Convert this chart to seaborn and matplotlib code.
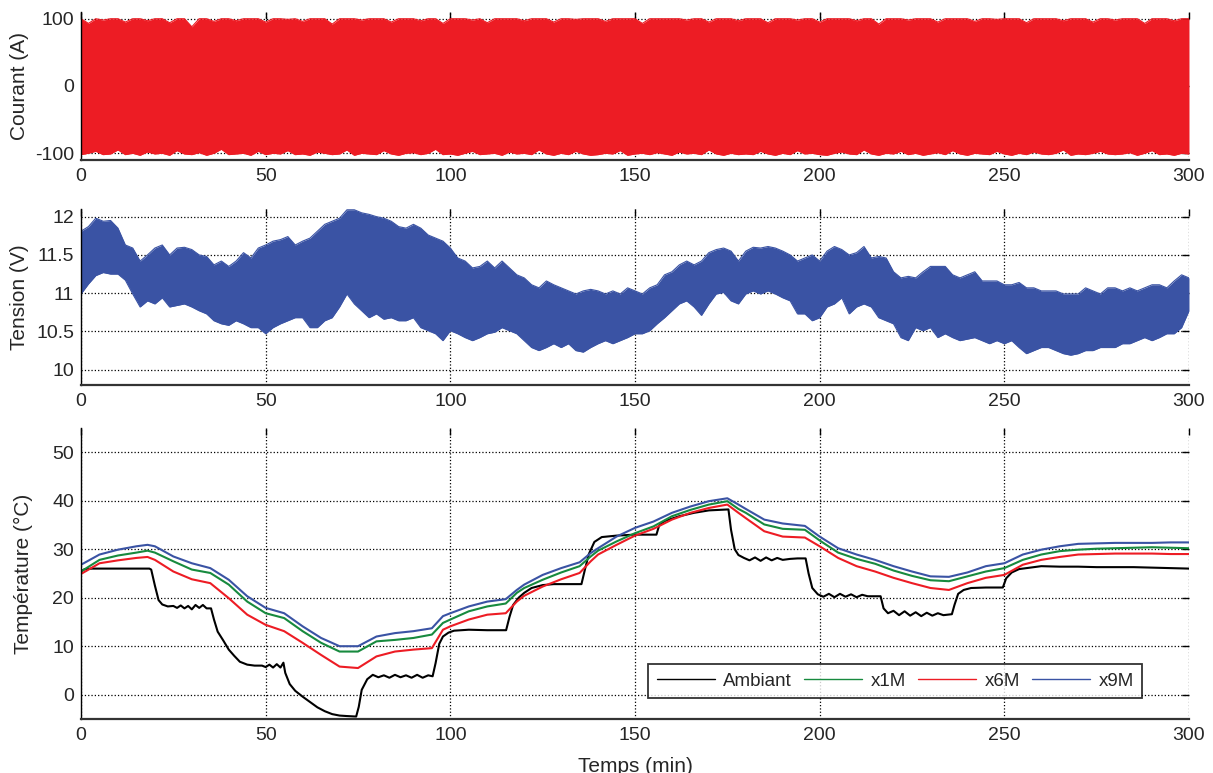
import numpy as np
import matplotlib.pyplot as plt
import matplotlib.ticker as mticker
import seaborn as sns
import pandas as pd

# ---- data ----
# envelopes of the current / voltage signals, one value every 2 min
t_env = np.arange(0, 301, 2)

courant_haut = [
    100, 93, 100, 98, 100, 100, 95, 100, 100, 97,
    100, 100, 94, 100, 100, 88, 100, 100, 96, 100,
    100, 97, 100, 100, 100, 95, 100, 100, 99, 100,
    96, 100, 100, 100, 92, 100, 100, 100, 98, 100,
    100, 100, 95, 100, 100, 100, 97, 100, 100, 93,
    100, 100, 100, 98, 100, 94, 100, 100, 100, 100,
    97, 100, 100, 100, 95, 100, 100, 99, 100, 100,
    100, 96, 100, 100, 100, 100, 93, 100, 100, 100,
    100, 100, 98, 100, 100, 95, 100, 100, 100, 97,
    100, 100, 100, 94, 100, 100, 100, 98, 100, 100,
    95, 100, 100, 100, 100, 97, 100, 100, 92, 100,
    100, 100, 98, 100, 100, 100, 95, 100, 100, 100,
    100, 96, 100, 100, 99, 100, 100, 100, 94, 100,
    100, 100, 100, 97, 100, 100, 100, 95, 100, 100,
    98, 100, 100, 100, 93, 100, 100, 100, 97, 100,
    100]
courant_bas = [
    -102, -100, -97, -102, -101, -95, -102, -100, -103, -98,
    -101, -100, -103, -96, -101, -102, -99, -103, -100, -94,
    -102, -101, -100, -103, -97, -102, -100, -101, -96, -102,
    -101, -103, -98, -100, -102, -101, -95, -103, -100, -101,
    -102, -96, -101, -103, -100, -99, -102, -100, -94, -102,
    -101, -103, -100, -97, -102, -101, -100, -103, -98, -101,
    -100, -102, -95, -101, -103, -100, -102, -97, -101, -103,
    -102, -100, -101, -96, -103, -101, -100, -102, -99, -101,
    -103, -98, -101, -100, -102, -95, -101, -103, -100, -102,
    -101, -102, -97, -101, -103, -100, -102, -96, -101, -100,
    -102, -103, -100, -98, -101, -102, -95, -101, -103, -100,
    -101, -97, -102, -100, -103, -101, -99, -102, -96, -101,
    -103, -100, -101, -102, -97, -101, -103, -100, -102, -98,
    -101, -102, -100, -95, -103, -101, -102, -100, -97, -101,
    -102, -101, -99, -103, -100, -96, -102, -101, -103, -100,
    -101]

tension_haut = [
    11.81, 11.87, 11.98, 11.94, 11.95, 11.85, 11.63, 11.59, 11.42, 11.50,
    11.59, 11.63, 11.50, 11.59, 11.60, 11.57, 11.50, 11.48, 11.37, 11.42,
    11.35, 11.42, 11.53, 11.46, 11.59, 11.63, 11.68, 11.70, 11.74, 11.63,
    11.68, 11.72, 11.81, 11.90, 11.94, 11.98, 12.09, 12.09, 12.05, 12.03,
    12.00, 11.98, 11.94, 11.87, 11.85, 11.90, 11.85, 11.76, 11.72, 11.68,
    11.59, 11.46, 11.42, 11.33, 11.35, 11.42, 11.33, 11.42, 11.33, 11.24,
    11.20, 11.11, 11.07, 11.16, 11.11, 11.07, 11.03, 10.99, 11.03, 11.05,
    11.03, 10.99, 11.03, 10.99, 11.07, 11.03, 10.99, 11.07, 11.11, 11.24,
    11.28, 11.37, 11.42, 11.37, 11.42, 11.53, 11.57, 11.59, 11.55, 11.42,
    11.55, 11.60, 11.59, 11.61, 11.59, 11.55, 11.50, 11.42, 11.46, 11.50,
    11.42, 11.55, 11.61, 11.57, 11.50, 11.53, 11.61, 11.46, 11.48, 11.46,
    11.28, 11.20, 11.22, 11.20, 11.28, 11.35, 11.35, 11.35, 11.24, 11.20,
    11.24, 11.28, 11.16, 11.16, 11.16, 11.11, 11.11, 11.14, 11.07, 11.07,
    11.03, 11.03, 11.03, 10.99, 10.99, 10.99, 11.07, 11.03, 10.99, 11.07,
    11.07, 11.03, 11.07, 11.03, 11.07, 11.11, 11.11, 11.07, 11.16, 11.24,
    11.20]
tension_bas = [
    10.99, 11.12, 11.23, 11.27, 11.25, 11.25, 11.17, 10.99, 10.82, 10.90,
    10.86, 10.94, 10.82, 10.84, 10.86, 10.82, 10.77, 10.73, 10.64, 10.60,
    10.58, 10.64, 10.60, 10.55, 10.55, 10.47, 10.55, 10.60, 10.64, 10.68,
    10.68, 10.55, 10.55, 10.64, 10.68, 10.82, 10.99, 10.86, 10.77, 10.68,
    10.73, 10.66, 10.68, 10.64, 10.64, 10.68, 10.55, 10.51, 10.47, 10.38,
    10.51, 10.47, 10.42, 10.38, 10.42, 10.47, 10.49, 10.55, 10.51, 10.47,
    10.38, 10.29, 10.25, 10.29, 10.34, 10.29, 10.34, 10.25, 10.23, 10.29,
    10.34, 10.38, 10.34, 10.38, 10.42, 10.47, 10.47, 10.51, 10.60, 10.68,
    10.77, 10.86, 10.90, 10.82, 10.71, 10.86, 10.99, 11.01, 10.90, 10.86,
    10.99, 11.03, 10.99, 11.03, 10.99, 10.94, 10.90, 10.73, 10.73, 10.64,
    10.68, 10.82, 10.86, 10.94, 10.73, 10.82, 10.86, 10.82, 10.68, 10.64,
    10.60, 10.42, 10.38, 10.55, 10.51, 10.55, 10.42, 10.47, 10.42, 10.38,
    10.40, 10.42, 10.38, 10.34, 10.38, 10.34, 10.38, 10.29, 10.21, 10.25,
    10.29, 10.29, 10.25, 10.21, 10.19, 10.21, 10.25, 10.25, 10.29, 10.29,
    10.29, 10.34, 10.34, 10.38, 10.42, 10.38, 10.42, 10.47, 10.47, 10.55,
    10.77]

# ambient temperature (irregular sampling to keep steps and wiggles)
t_amb = [0, 1, 3, 10, 18.5, 19, 20, 21, 22, 23.5, 25, 26, 27, 28, 29, 30, 31, 32, 33, 34, 35.2,
         36, 37, 38.5, 40, 41.5, 43, 45, 47, 49, 50, 51, 52, 53, 54, 54.8, 55.3, 56.5, 58, 60,
         62, 64, 66, 68, 70, 72, 74.5, 75.2, 76, 77.5, 79, 80.5, 82, 83.5, 85, 86.5, 88, 89.5,
         91, 92.5, 94, 95.2, 96, 97, 98, 99.5, 101, 105, 110, 115.1, 116, 117, 118.5, 120, 122,
         125, 128, 135.5, 136.5, 137.5, 139, 141, 145, 150, 155.8, 156.5, 158, 162, 166, 170,
         175.3, 176, 177, 178, 179.5, 181, 182.5, 184, 185.5, 187, 188.5, 190, 192, 194, 196.2,
         197, 198, 199.5, 201, 202.5, 204, 205.5, 207, 208.5, 210, 211.5, 213, 216.5, 217.3,
         218.5, 220, 221.5, 223, 224.5, 226, 227.5, 229, 230.5, 232, 233.5, 235.8, 236.5, 237.5,
         239, 241, 245, 249.6, 250.5, 252, 254, 257, 260, 265, 270, 275, 280, 285, 290, 295, 300]
ambiant = [25.4, 25.9, 26.0, 26.0, 26.0, 25.8, 22.5, 19.5, 18.6, 18.2, 18.3, 17.9, 18.4, 17.8, 18.3,
           17.6, 18.5, 17.9, 18.5, 17.8, 17.8, 15.5, 13.0, 11.2, 9.3, 8.0, 6.8, 6.2, 6.0, 6.0, 5.7,
           6.2, 5.6, 6.3, 5.6, 6.6, 4.5, 2.2, 0.8, -0.4, -1.5, -2.6, -3.4, -4.0, -4.3, -4.4, -4.5,
           -2.5, 1.0, 3.2, 4.1, 3.6, 4.0, 3.5, 4.1, 3.6, 4.0, 3.5, 4.1, 3.5, 4.0, 3.8, 6.5, 10.5,
           12.0, 12.8, 13.2, 13.4, 13.3, 13.3, 16.0, 18.5, 20.0, 21.0, 22.0, 22.6, 22.8, 22.8, 26.0,
           29.0, 31.5, 32.5, 32.8, 33.0, 33.0, 34.8, 35.8, 36.8, 37.5, 38.0, 38.2, 34.0, 30.0, 28.8,
           28.2, 27.7, 28.3, 27.6, 28.3, 27.7, 28.2, 27.8, 28.0, 28.1, 28.1, 25.0, 22.0, 20.7, 20.2,
           20.8, 20.1, 20.8, 20.2, 20.7, 20.1, 20.6, 20.3, 20.3, 17.8, 16.8, 17.3, 16.4, 17.2, 16.3,
           17.0, 16.2, 16.9, 16.3, 16.8, 16.4, 16.6, 18.5, 20.8, 21.6, 22.0, 22.1, 22.1, 24.0, 25.2,
           25.9, 26.2, 26.5, 26.4, 26.4, 26.3, 26.3, 26.3, 26.2, 26.1, 26.0]

# module temperatures
t_mod = [0, 5, 10, 15, 18, 20, 25, 30, 35, 40, 45, 50, 55, 60, 65, 70, 75, 80, 85, 90, 95, 98, 100,
         105, 110, 115, 118, 120, 125, 130, 135, 138, 140, 145, 150, 155, 160, 165, 170, 175, 178,
         180, 185, 190, 196, 200, 205, 210, 215, 220, 225, 230, 235, 240, 245, 250, 255, 260, 265,
         270, 275, 280, 285, 290, 295, 300]
x1M = [25.4, 27.8, 28.7, 29.3, 29.7, 29.3, 27.5, 25.8, 25.1, 22.7, 19.2, 16.8, 15.8, 13.1, 10.7, 8.9,
       8.9, 11.0, 11.3, 11.7, 12.4, 14.8, 15.5, 17.2, 18.2, 18.8, 21.0, 22.0, 23.7, 25.2, 26.5, 28.5,
       29.7, 31.6, 33.3, 34.7, 36.8, 38.1, 39.2, 39.9, 38.3, 37.5, 35.1, 34.2, 34.0, 31.8, 29.3, 28.0,
       27.0, 25.6, 24.5, 23.6, 23.4, 24.4, 25.4, 26.1, 27.8, 28.9, 29.6, 29.9, 30.1, 30.2, 30.3, 30.4,
       30.3, 30.2]
x6M = [24.9, 27.1, 27.7, 28.2, 28.4, 27.8, 25.4, 23.8, 23.0, 19.9, 16.5, 14.4, 13.1, 10.7, 8.2, 5.8,
       5.5, 7.9, 8.9, 9.3, 9.6, 13.4, 14.1, 15.5, 16.5, 16.8, 19.2, 20.4, 22.3, 23.8, 25.1, 27.5,
       28.9, 30.9, 32.8, 34.2, 36.1, 37.5, 38.5, 39.2, 37.5, 36.4, 33.7, 32.6, 32.4, 30.6, 28.2, 26.5,
       25.4, 24.1, 23.0, 22.0, 21.6, 23.0, 24.1, 24.7, 26.8, 27.8, 28.4, 28.9, 29.0, 29.1, 29.1, 29.1,
       29.0, 29.0]
x9M = [26.8, 28.9, 29.9, 30.6, 30.9, 30.6, 28.5, 27.1, 26.1, 23.7, 20.3, 17.9, 16.8, 14.1, 11.7, 10.0,
       10.0, 12.0, 12.7, 13.1, 13.7, 16.2, 16.8, 18.2, 19.2, 19.7, 21.6, 22.7, 24.7, 26.1, 27.3, 29.2,
       30.2, 32.6, 34.4, 35.7, 37.5, 38.8, 39.9, 40.5, 39.2, 38.3, 36.1, 35.3, 34.8, 32.6, 30.2, 28.9,
       27.8, 26.5, 25.4, 24.4, 24.3, 25.2, 26.5, 27.1, 28.9, 29.9, 30.6, 31.1, 31.2, 31.3, 31.3, 31.3,
       31.4, 31.4]

ROUGE = '#ED1C24'
BLEU = '#3A53A4'
VERT = '#178A3E'

sns.set_style('white')
plt.rcParams['font.family'] = ['Liberation Sans', 'DejaVu Sans']
plt.rcParams['axes.unicode_minus'] = False

temp = pd.concat([
    pd.DataFrame({'t': t_amb, 'T': ambiant, 'serie': 'Ambiant'}),
    pd.DataFrame({'t': t_mod, 'T': x1M, 'serie': 'x1M'}),
    pd.DataFrame({'t': t_mod, 'T': x6M, 'serie': 'x6M'}),
    pd.DataFrame({'t': t_mod, 'T': x9M, 'serie': 'x9M'}),
])

fig = plt.figure(figsize=(12.13, 7.73), dpi=100)
ax1 = fig.add_axes([0.0668, 0.793, 0.9134, 0.1915])
ax2 = fig.add_axes([0.0668, 0.5019, 0.9134, 0.2277])
ax3 = fig.add_axes([0.0668, 0.0699, 0.9134, 0.3765])

# current
ax1.fill_between(t_env, courant_bas, courant_haut, color=ROUGE, lw=0)
sns.lineplot(x=t_env, y=courant_haut, ax=ax1, color=ROUGE, lw=0.8)
sns.lineplot(x=t_env, y=courant_bas, ax=ax1, color=ROUGE, lw=0.8)
ax1.set_ylim(-110, 110)
ax1.set_yticks([-100, 0, 100])
ax1.set_ylabel('Courant (A)')

# voltage
ax2.fill_between(t_env, tension_bas, tension_haut, color=BLEU, lw=0)
sns.lineplot(x=t_env, y=tension_haut, ax=ax2, color=BLEU, lw=0.8)
sns.lineplot(x=t_env, y=tension_bas, ax=ax2, color=BLEU, lw=0.8)
ax2.set_ylim(9.8, 12.1)
ax2.set_yticks([10, 10.5, 11, 11.5, 12])
ax2.yaxis.set_major_formatter(mticker.FormatStrFormatter('%g'))
ax2.set_ylabel('Tension (V)')

# temperatures
sns.lineplot(data=temp, x='t', y='T', hue='serie', ax=ax3, estimator=None,
             hue_order=['Ambiant', 'x1M', 'x6M', 'x9M'],
             palette=['black', VERT, ROUGE, BLEU], lw=1.5)
ax3.set_ylim(-5, 55)
ax3.set_yticks(range(0, 51, 10))
ax3.set_ylabel('Température (°C)')
ax3.set_xlabel('Temps (min)', fontsize=15)
ax3.xaxis.set_label_coords(0.5, -0.131)

leg = ax3.legend(ncol=4, loc='lower right', bbox_to_anchor=(0.958, 0.072), borderaxespad=0,
                 frameon=True, fancybox=False, edgecolor='black', fontsize=13.5,
                 handlelength=3.1, handletextpad=0.45, columnspacing=0.65, borderpad=0.45)
leg.get_frame().set_linewidth(1.3)
for ln in leg.get_lines():
    ln.set_linewidth(1.0)

for ax, lx in [(ax1, -0.047), (ax2, -0.047), (ax3, -0.043)]:
    ax.set_xlim(0, 300)
    ax.set_xticks(range(0, 301, 50))
    if ax is not ax3:
        ax.set_xlabel('')
    ax.yaxis.label.set_fontsize(15)
    ax.yaxis.set_label_coords(lx, 0.5)
    ax.grid(True, color='black', linestyle=':', linewidth=0.9)
    ax.set_axisbelow(True)
    ax.tick_params(axis='both', which='major', direction='in', length=5, width=1,
                   labelsize=14, top=True, right=True, color='black')
    ax.tick_params(axis='x', pad=6)
    ax.tick_params(axis='y', pad=5)
    ax.spines['top'].set_visible(False)
    ax.spines['right'].set_visible(False)
    ax.spines['left'].set_color('black')
    ax.spines['left'].set_linewidth(1.0)
    ax.spines['bottom'].set_color('#333333')
    ax.spines['bottom'].set_linewidth(1.6)

fig.savefig('out.png', dpi=100)
